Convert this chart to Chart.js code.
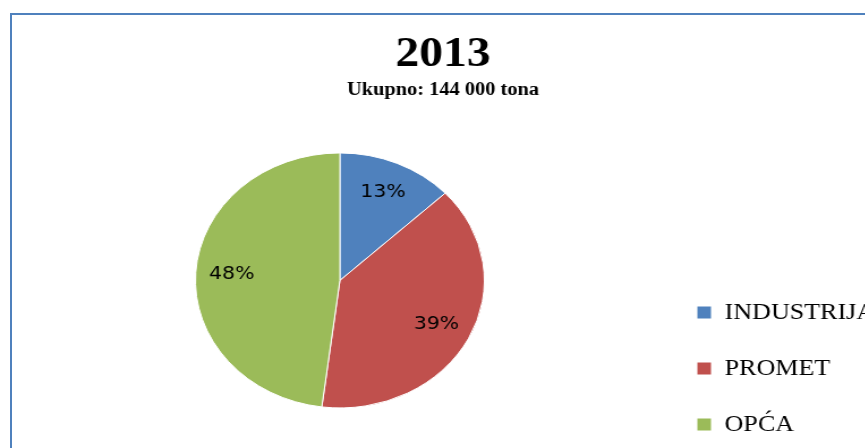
<!DOCTYPE html>
<html>
<head>
<meta charset="utf-8">
<script src="https://cdn.jsdelivr.net/npm/chart.js@4"></script>
<style>
  html, body { margin: 0; padding: 0; background: #fff; overflow: hidden; width: 865px; height: 448px; }
  .frame { position: absolute; left: 10px; top: 13px; width: 1000px; height: 1000px;
           border-top: 2px solid #4f81bd; border-left: 2px solid #4f81bd; }
  /* the original picture is stretched sideways, so stretch the whole chart the same way */
  .wrap { position: absolute; left: 0; top: 0; width: 764px; height: 469px;
          transform: scaleX(1.133); transform-origin: 0 0; }
</style>
</head>
<body>
<div class="frame"></div>
<div class="wrap"><canvas id="pie"></canvas></div>
<script>
'use strict';

// data
const titleText = '2013';
const subtitleText = 'Ukupno: 144 000 tona';
const categories = ['INDUSTRIJA', 'PROMET', 'OPĆA'];
const shares = [13, 39, 48];   // percent
const colors = ['#4f81bd', '#c0504d', '#9bbb59'];

// percent labels inside the slices
const pctLabels = {
    id: 'pctLabels',
    afterDatasetsDraw(chart) {
        const ctx = chart.ctx;
        const meta = chart.getDatasetMeta(0);
        ctx.save();
        ctx.font = '18px "DejaVu Sans"';
        ctx.fillStyle = '#000';
        ctx.textAlign = 'center';
        ctx.textBaseline = 'middle';
        meta.data.forEach((arc, i) => {
            const p = arc.getProps(['x', 'y', 'startAngle', 'endAngle', 'outerRadius'], true);
            const mid = (p.startAngle + p.endAngle) / 2;
            const r = p.outerRadius * 0.75;
            ctx.fillText(shares[i] + '%', p.x + Math.cos(mid) * r, p.y + Math.sin(mid) * r);
        });
        ctx.restore();
    }
};

new Chart(document.getElementById('pie'), {
    type: 'pie',
    data: {
        labels: categories,
        datasets: [{
            data: shares,
            backgroundColor: colors,
            borderColor: '#ffffff',
            borderWidth: 1
        }]
    },
    options: {
        responsive: true,
        maintainAspectRatio: false,
        animation: false,
        events: [],
        radius: 127.5,
        layout: {
            padding: { left: 18, right: 0, top: 0, bottom: 0 }
        },
        plugins: {
            title: {
                display: true,
                text: titleText,
                color: '#000',
                font: { family: '"Liberation Serif"', size: 42, weight: 'bold', lineHeight: 1 },
                padding: { top: 34.3, bottom: 0 }
            },
            subtitle: {
                display: true,
                text: subtitleText,
                color: '#000',
                font: { family: '"Liberation Serif"', size: 18, weight: 'bold', lineHeight: 0.2 },
                padding: { top: 12, bottom: 0 }
            },
            legend: {
                position: 'right',
                align: 'end',
                maxWidth: 182,
                labels: {
                    color: '#000',
                    font: { family: '"Liberation Serif"', size: 23 },
                    boxWidth: 13,
                    boxHeight: 13,
                    padding: 33
                }
            },
            tooltip: { enabled: false }
        }
    },
    plugins: [pctLabels]
});
</script>
</body>
</html>
